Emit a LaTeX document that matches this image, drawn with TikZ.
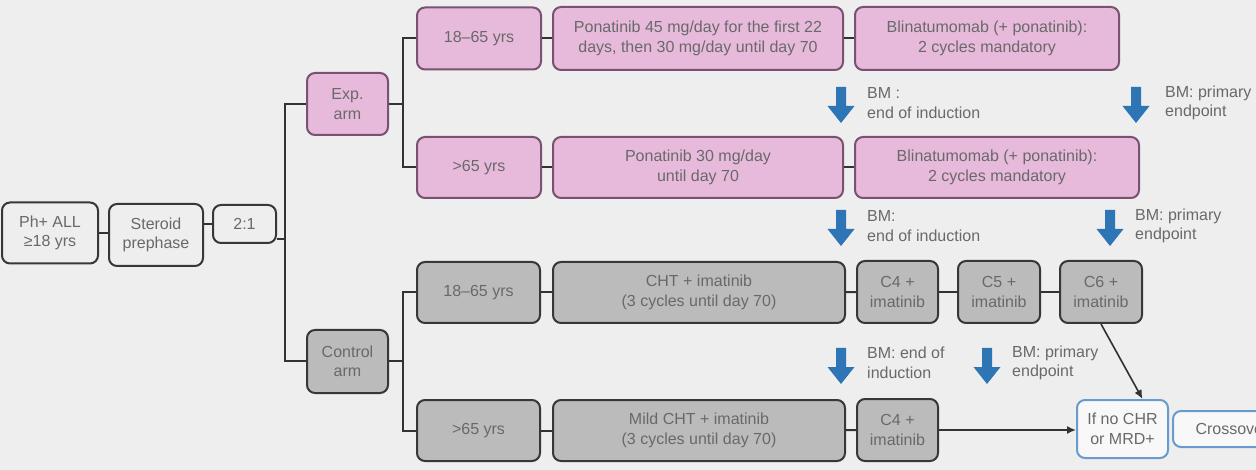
\documentclass[tikz,border=0pt]{standalone}
\usepackage{fontspec}
\setmainfont{Liberation Sans}
\usetikzlibrary{arrows.meta}
\definecolor{bgc}{RGB}{238,238,238}
\definecolor{pinkf}{RGB}{231,186,219}
\definecolor{pinkd}{RGB}{120,82,112}
\definecolor{grayf}{RGB}{187,187,187}
\definecolor{grayd}{RGB}{55,55,55}
\definecolor{txt}{RGB}{105,105,105}
\definecolor{bluea}{RGB}{46,117,182}
\definecolor{blueb}{RGB}{105,155,205}
\definecolor{linec}{RGB}{50,50,50}
\tikzset{
  box/.style={rounded corners=8pt, line width=2pt, align=center, text=txt,
    font=\fontsize{16}{19.5}\selectfont, inner sep=0pt},
  neutral/.style={box, draw=grayd, fill=bgc},
  pinkbox/.style={box, draw=pinkd, fill=pinkf},
  graybox/.style={box, draw=grayd, fill=grayf},
  bluebox/.style={box, draw=blueb, fill=white!60!bgc},
  conn/.style={draw=linec, line width=2pt},
  arr/.style={draw=linec, line width=1.6pt, -{Latex[length=9pt,width=8pt]}},
  bmlabel/.style={anchor=west, align=left, text=txt, font=\fontsize{16}{19.5}\selectfont, inner sep=0pt},
  bmarrow/.style={fill=bluea}
}
\newcommand{\bmarr}[3]{% x, top y, name
  \fill[bmarrow] (#1-5,#2) -- (#1+5,#2) -- (#1+5,#2+19) -- (#1+13.5,#2+19) -- (#1,#2+36) -- (#1-13.5,#2+19) -- (#1-5,#2+19) -- cycle;
  \coordinate (#3) at (#1,#2);}
\begin{document}
\begin{tikzpicture}[x=1pt,y=-1pt]
\fill[bgc] (0,0) rectangle (1256,470);
\useasboundingbox (0,0) rectangle (1256,470);
\clip (0,0) rectangle (1256,470);
% nodes
\node[neutral, minimum width=96pt, minimum height=61pt] (ph) at (50,233) {Ph+ ALL\\≥18 yrs};
\node[neutral, minimum width=94pt, minimum height=62pt] (ster) at (156,235) {Steroid\\prephase};
\node[neutral, minimum width=63pt, minimum height=38pt] (r21) at (244.5,224) {2:1};
\node[pinkbox, minimum width=81pt, minimum height=62pt] (exp) at (347.5,104) {Exp.\\arm};
\node[graybox, minimum width=81pt, minimum height=63pt] (ctrl) at (347.5,361.5) {Control\\arm};
\node[pinkbox, minimum width=124pt, minimum height=62pt] (e1) at (479,38.5) {18–65 yrs};
\node[pinkbox, minimum width=124pt, minimum height=61pt] (e2) at (479,167.5) {>65 yrs};
\node[pinkbox, minimum width=290pt, minimum height=63pt] (p1) at (698,38.5) {Ponatinib 45 mg/day for the first 22\\days, then 30 mg/day until day 70};
\node[pinkbox, minimum width=290pt, minimum height=61pt] (p2) at (698,167.5) {Ponatinib 30 mg/day\\until day 70};
\node[pinkbox, minimum width=264pt, minimum height=63pt] (b1) at (987,38.5) {Blinatumomab (+ ponatinib):\\2 cycles mandatory};
\node[pinkbox, minimum width=284pt, minimum height=61pt] (b2) at (997,167.5) {Blinatumomab (+ ponatinib):\\2 cycles mandatory};
\node[graybox, minimum width=123pt, minimum height=61pt] (c1) at (478.5,292.5) {18–65 yrs};
\node[graybox, minimum width=292pt, minimum height=61pt] (cht) at (699,292.5) {CHT + imatinib\\(3 cycles until day 70)};
\node[graybox, minimum width=81pt, minimum height=62pt] (c4) at (897.5,292) {C4 +\\imatinib};
\node[graybox, minimum width=82pt, minimum height=62pt] (c5) at (999,292) {C5 +\\imatinib};
\node[graybox, minimum width=82pt, minimum height=62pt] (c6) at (1101,292) {C6 +\\imatinib};
\node[graybox, minimum width=123pt, minimum height=61pt] (c2) at (478.5,430.5) {>65 yrs};
\node[graybox, minimum width=292pt, minimum height=61pt] (mcht) at (699,430.5) {Mild CHT + imatinib\\(3 cycles until day 70)};
\node[graybox, minimum width=81pt, minimum height=62pt] (c4b) at (897.5,430) {C4 +\\imatinib};
\node[bluebox, minimum width=91pt, minimum height=58pt] (ifno) at (1122.5,429) {If no CHR\\or MRD+};
\node[bluebox, minimum width=118pt, minimum height=36pt] (cross) at (1232,429) {Crossover};
% split coordinates
\coordinate (s1) at (285,239);
\coordinate (s2) at (403,104);
\coordinate (s3) at (403,361.5);
% connectors
\draw[conn] (ph.east) -- (ph.east -| ster.west);
\draw[conn] (r21.west -| ster.east) -- (r21.west);
\draw[conn] ([yshift=-15pt]r21.east) -- (s1);
\draw[conn] (exp.west) -| (s1) |- (ctrl.west);
\draw[conn] (exp.east) -- (s2);
\draw[conn] (e1.west) -| (s2) |- (e2.west);
\draw[conn] (ctrl.east) -- (s3);
\draw[conn] (c1.west) -| (s3) |- (c2.west);
\draw[conn] (e1) -- (p1);
\draw[conn] (p1) -- (b1);
\draw[conn] (e2) -- (p2);
\draw[conn] (p2.east) -- (p2.east -| b2.west);
\draw[conn] (c1) -- (cht);
\draw[conn] (cht) -- (c4);
\draw[conn] (c4) -- (c5);
\draw[conn] (c5) -- (c6);
\draw[conn] (c2) -- (mcht);
\draw[conn] (mcht) -- (c4b);
\draw[arr] (c4b.east) -- (c4b.east -| ifno.west);
\draw[arr] (c6.south) -- ([xshift=20pt]ifno.north);
% BM arrows and labels
\bmarr{841}{87}{a1}
\node[bmlabel] (l1) at (867,103) {BM :\\end of induction};
\bmarr{1136}{87}{a2}
\node[bmlabel] (l2) at (1165,103) {BM: primary\\endpoint};
\bmarr{841}{210}{a3}
\node[bmlabel] (l3) at (867,226) {BM:\\end of induction};
\bmarr{1110}{210}{a4}
\node[bmlabel] (l4) at (1135,226) {BM: primary\\endpoint};
\bmarr{841}{348}{a5}
\node[bmlabel] (l5) at (867,363) {BM: end of\\induction};
\bmarr{987}{348}{a6}
\node[bmlabel] (l6) at (1012,363) {BM: primary\\endpoint};
\end{tikzpicture}
\end{document}
